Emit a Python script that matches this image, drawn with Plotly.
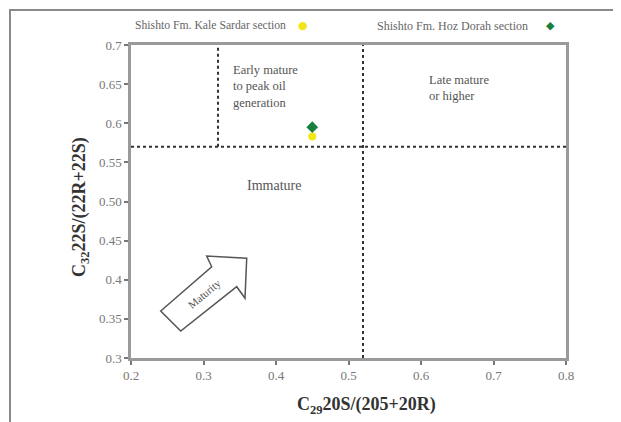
import plotly.graph_objects as go

# ---- data ----
series_names = ["Shishto Fm. Kale Sardar section", "Shishto Fm. Hoz Dorah section"]
series_x = [[0.45], [0.45]]
series_y = [[0.583], [0.595]]
series_colors = ["#f2e51a", "#17803d"]
series_symbols = ["circle", "diamond"]
series_sizes = [8, 9]

x_ticks = [0.2, 0.3, 0.4, 0.5, 0.6, 0.7, 0.8]
x_ticktext = ["0.2", "0.3", "0.4", "0.5", "0.6", "0.7", "0.8"]
y_ticks = [0.3, 0.35, 0.4, 0.45, 0.5, 0.55, 0.6, 0.65, 0.7]
y_ticktext = ["0.3", "0.35", "0.4", "0.45", "0.50", "0.55", "0.6", "0.65", "0.7"]

x_range = [0.2, 0.8]
y_range = [0.3, 0.7]
c29_threshold = 0.52
c29_early = 0.32
c32_threshold = 0.57

# page body has an 8px margin; shrink the figure so it lands on the window pixels
OFF = 8
W, H = 621 - OFF, 422 - OFF
L, R, T, B = 131 - OFF, 55, 45 - OFF, 64
PW, PH = W - L - R, H - T - B


def px(xp, yp):
    """window pixel -> paper coords"""
    xp -= OFF
    yp -= OFF
    return (xp - L) / PW, (H - B - yp) / PH


SERIF = "Liberation Serif, Times New Roman, serif"

fig = go.Figure()
for name, xs, ys, c, s, sz in zip(series_names, series_x, series_y, series_colors, series_symbols, series_sizes):
    fig.add_trace(go.Scatter(x=xs, y=ys, mode="markers", name=name,
                             marker=dict(color=c, symbol=s, size=sz, line=dict(width=0)),
                             showlegend=False))

dot = dict(color="#333333", width=2, dash="dot")
fig.add_shape(type="line", xref="x", yref="y", x0=c29_threshold, x1=c29_threshold,
              y0=y_range[0], y1=y_range[1], line=dot, layer="below")
fig.add_shape(type="line", xref="x", yref="y", x0=x_range[0], x1=x_range[1],
              y0=c32_threshold, y1=c32_threshold, line=dot, layer="below")
fig.add_shape(type="line", xref="x", yref="y", x0=c29_early, x1=c29_early,
              y0=c32_threshold, y1=y_range[1], line=dot, layer="below")

# outer frame
fx0, fy0 = px(10, 10)
fx1, fy1 = px(650, 450)
fig.add_shape(type="rect", xref="paper", yref="paper", x0=fx0, y0=fy1, x1=fx1, y1=fy0,
              line=dict(color="#8a8a8a", width=2), layer="below")

# maturity arrow
pts = [(160.7, 311), (211.7, 266.7), (206.7, 256), (246.7, 258.3),
       (245, 298.3), (236.7, 286.7), (180.7, 331)]
path = ""
for i, (a, b) in enumerate(pts):
    u, v = px(a, b)
    path += ("M" if i == 0 else "L") + f"{u:.4f},{v:.4f} "
path += "Z"
fig.add_shape(type="path", xref="paper", yref="paper", path=path,
              line=dict(color="#555555", width=1.5), fillcolor="rgba(0,0,0,0)")

ann_font = dict(family=SERIF, size=12.5, color="#555555")


def add_text(xp, yp, text, xanchor="center", **kw):
    u, v = px(xp, yp)
    fig.add_annotation(xref="paper", yref="paper", x=u, y=v, text=text, showarrow=False,
                       xanchor=xanchor, yanchor="middle", **kw)


add_text(231, 86, "Early mature<br>to peak oil<br>generation", xanchor="left", align="left", font=ann_font)
add_text(427, 88, "Late mature<br>or higher", xanchor="left", align="left",
         font=dict(family=SERIF, size=12.5, color="#555555"))
add_text(274, 185, "Immature", font=dict(family=SERIF, size=14, color="#555555"))
add_text(204, 294, "Maturity", textangle=-40, font=dict(family=SERIF, size=11, color="#555555"))

# legend-like header
add_text(133, 26, series_names[0], xanchor="left", font=dict(family=SERIF, size=11.7, color="#666666"))
add_text(302.7, 26, "●", font=dict(family="DejaVu Sans", size=11, color=series_colors[0]))
add_text(375, 26, series_names[1], xanchor="left", font=dict(family=SERIF, size=12, color="#666666"))
add_text(550.7, 26, "◆", font=dict(family="DejaVu Sans", size=11, color=series_colors[1]))

# axis titles
add_text(366, 405, "<b>C<sub>29</sub>20S/(205+20R)</b>",
         font=dict(family=SERIF, size=18, color="#333333"))
add_text(80, 207, "<b>C<sub>32</sub>22S/(22R+22S)</b>", textangle=-90,
         font=dict(family=SERIF, size=18, color="#333333"))

axis_common = dict(showline=True, linecolor="#9a9a9a", linewidth=2.5, mirror=True,
                   showgrid=False, zeroline=False, ticks="outside", ticklen=4,
                   tickcolor="#777777", tickwidth=1.5,
                   tickfont=dict(family=SERIF, size=13, color="#777777"))
fig.update_xaxes(range=x_range, tickvals=x_ticks, ticktext=x_ticktext, **axis_common)
fig.update_yaxes(range=y_range, tickvals=y_ticks, ticktext=y_ticktext, **axis_common)

fig.update_layout(width=W, height=H, margin=dict(l=L, r=R, t=T, b=B),
                  plot_bgcolor="white", paper_bgcolor="white", showlegend=False)

fig.write_html("out.html")
